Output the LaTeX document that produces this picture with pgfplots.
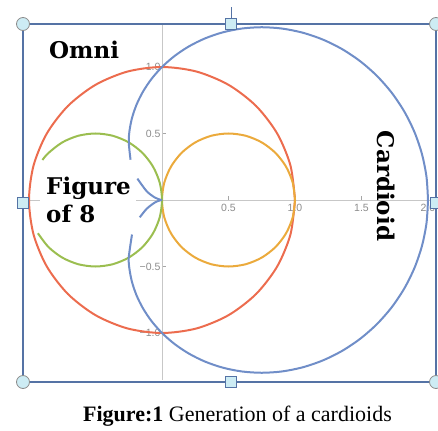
\documentclass[border=0pt]{standalone}
\usepackage{fontspec}
\setmainfont{Liberation Serif}
\newfontfamily\labfont{DejaVu Serif}
\newfontfamily\tickfont{Liberation Sans}
\usepackage{pgfplots}
\pgfplotsset{compat=1.18}
\definecolor{omni}{RGB}{236,108,78}
\definecolor{figl}{RGB}{155,190,80}
\definecolor{figr}{RGB}{235,170,60}
\definecolor{card}{RGB}{112,142,200}
\definecolor{frame}{RGB}{85,115,165}
\definecolor{handle}{RGB}{205,236,244}
\pgfplotsset{mycurve/.style={line width=2pt, smooth, mark=none}}
\begin{document}
\begin{tikzpicture}
\useasboundingbox (0,0) rectangle (438pt,-430pt);
\begin{axis}[
  x=133pt, y=133pt,
  xmin=-1.0, xmax=2.03, ymin=-1.35, ymax=1.32,
  at={(29pt,-379.55pt)}, anchor=south west,
  axis lines=middle,
  axis line style={-, draw=black!22, line width=0.8pt},
  clip=false,
  xtick={-1,-0.5,0.5,1,1.5,2},
  xticklabels={,,0.5,1.0,1.5,2.0},
  ytick={-1,-0.5,0.5,1},
  yticklabels={−1.0,−0.5,0.5,1.0},
  minor tick num=4,
  tick align=inside,
  major tick length=4pt, minor tick length=2.5pt,
  tick style={black!35, line width=0.6pt},
  ticklabel style={font=\tickfont\fontsize{10.5}{10.5}\selectfont, text=black!45},
  xticklabel style={anchor=north, yshift=-1pt},
  yticklabel style={anchor=east, xshift=2pt},
]
% Omni: unit circle
\addplot[mycurve, omni] coordinates {(1,0) (0.9659,0.2588) (0.8660,0.5) (0.7071,0.7071) (0.5,0.8660) (0.2588,0.9659) (0,1) (-0.2588,0.9659) (-0.5,0.8660) (-0.7071,0.7071) (-0.8660,0.5) (-0.9659,0.2588) (-1,0) (-0.9659,-0.2588) (-0.8660,-0.5) (-0.7071,-0.7071) (-0.5,-0.8660) (-0.2588,-0.9659) (0,-1) (0.2588,-0.9659) (0.5,-0.8660) (0.7071,-0.7071) (0.8660,-0.5) (0.9659,-0.2588) (1,0)};
% Figure of 8: right lobe
\addplot[mycurve, figr] coordinates {(1,0) (0.9830,0.1294) (0.9330,0.25) (0.8536,0.3536) (0.75,0.4330) (0.6294,0.4830) (0.5,0.5) (0.3706,0.4830) (0.25,0.4330) (0.1464,0.3536) (0.0670,0.25) (0.0170,0.1294) (0,0) (0.0170,-0.1294) (0.0670,-0.25) (0.1464,-0.3536) (0.25,-0.4330) (0.3706,-0.4830) (0.5,-0.5) (0.6294,-0.4830) (0.75,-0.4330) (0.8536,-0.3536) (0.9330,-0.25) (0.9830,-0.1294) (1,0)};
% Figure of 8: left lobe
\addplot[mycurve, figl] coordinates {(-0.9330,-0.25) (-0.8536,-0.3536) (-0.75,-0.4330) (-0.6294,-0.4830) (-0.5,-0.5) (-0.3706,-0.4830) (-0.25,-0.4330) (-0.1464,-0.3536) (-0.0670,-0.25) (-0.0170,-0.1294) (0,0) (-0.0170,0.1294) (-0.0670,0.25) (-0.1464,0.3536) (-0.25,0.4330) (-0.3706,0.4830) (-0.5,0.5) (-0.6294,0.4830) (-0.75,0.4330) (-0.8536,0.3536) (-0.8993,0.3009)};
% Cardioid, upper half
\addplot[mycurve, card] coordinates {(2,0) (1.9886,0.1740) (1.9547,0.3447) (1.8990,0.5088) (1.8227,0.6634) (1.7277,0.8057) (1.6160,0.9330) (1.4902,1.0434) (1.3528,1.1352) (1.2071,1.2071) (1.0560,1.2584) (0.9026,1.2890) (0.75,1.2990) (0.6012,1.2893) (0.4590,1.2611) (0.3258,1.2159) (0.2038,1.1558) (0.0948,1.0830) (0,1) (-0.0796,0.9094) (-0.1435,0.8138) (-0.1918,0.7159) (-0.2250,0.6183) (-0.2440,0.5233) (-0.25,0.4330) (-0.2366,0.3028)};
\addplot[mycurve, card] coordinates {(-0.1851,0.1609) (-0.1160,0.0670) (-0.0567,0.0206) (-0.0150,0.0026) (0,0)};
% Cardioid, lower half
\addplot[mycurve, card] coordinates {(0,0) (-0.0150,-0.0026) (-0.0567,-0.0206) (-0.1160,-0.0670) (-0.1671,-0.1305)};
\addplot[mycurve, card] coordinates {(-0.2256,-0.2595) (-0.25,-0.4330) (-0.2440,-0.5233) (-0.2250,-0.6183) (-0.1918,-0.7159) (-0.1435,-0.8138) (-0.0796,-0.9094) (0,-1) (0.0948,-1.0830) (0.2038,-1.1558) (0.3258,-1.2159) (0.4590,-1.2611) (0.6012,-1.2893) (0.75,-1.2990) (0.9026,-1.2890) (1.0560,-1.2584) (1.2071,-1.2071) (1.3528,-1.1352) (1.4902,-1.0434) (1.6160,-0.9330) (1.7277,-0.8057) (1.8227,-0.6634) (1.8990,-0.5088) (1.9547,-0.3447) (1.9886,-0.1740) (2,0)};
\end{axis}
% patch behind the "Figure of 8" label
\fill[white] (40pt,-195pt) rectangle (136pt,-206pt);
% labels
\node[anchor=base west, inner sep=0pt, font=\labfont\bfseries\fontsize{23}{23}\selectfont] at (49pt,-59pt) {Omni};
\node[anchor=base west, inner sep=0pt, font=\labfont\bfseries\fontsize{23}{23}\selectfont] at (46pt,-194pt) {Figure};
\node[anchor=base west, inner sep=0pt, font=\labfont\bfseries\fontsize{23}{23}\selectfont] at (46pt,-222pt) {of 8};
\node[rotate=-90, inner sep=0pt, font=\labfont\bfseries\fontsize{23}{23}\selectfont] at (386pt,-186pt) {Cardioid};
% caption
\node[anchor=base, inner sep=0pt, font=\fontsize{22}{22}\selectfont] at (237.5pt,-421pt) {\textbf{Figure:1} Generation of a cardioids};
% selection frame
\draw[frame, line width=1.2pt] (23pt,-24pt) rectangle (436pt,-382pt);
\draw[frame, line width=1pt] (231pt,-24pt) -- (231pt,-7pt);
\foreach \px/\py in {23/24,436/24,23/382,436/382}{
  \draw[fill=handle, draw=black!45, line width=0.8pt] (\px pt,-\py pt) circle (6.5pt);
}
\foreach \px/\py in {231/24,23/203,231/382,436/203}{
  \draw[fill=handle, draw=frame, line width=0.8pt] (\px pt-5.5pt,-\py pt-5.5pt) rectangle (\px pt+5.5pt,-\py pt+5.5pt);
}
\end{tikzpicture}
\end{document}
